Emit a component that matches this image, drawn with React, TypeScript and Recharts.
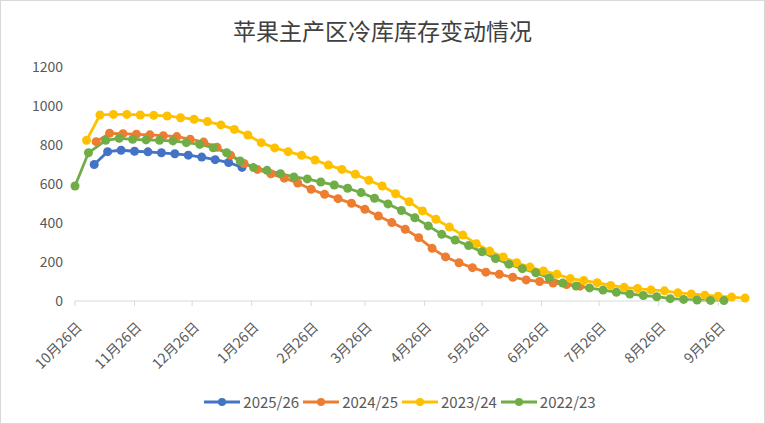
import { LineChart, Line, XAxis, YAxis, Legend } from 'recharts';

const title = '苹果主产区冷库库存变动情况';

// x positions are days counted from 10月26日
const tickDays = [0, 31, 61, 92, 123, 151, 182, 212, 243, 273, 304, 335];
const tickLabels = ['10月26日', '11月26日', '12月26日', '1月26日', '2月26日', '3月26日', '4月26日', '5月26日', '6月26日', '7月26日', '8月26日', '9月26日'];
const yTicks = [0, 200, 400, 600, 800, 1000, 1200];

// weekly readings (万吨)
const blueStart = 10;
const blueValues = [700, 766, 773, 768, 765, 760, 755, 748, 738, 725, 710, 685];

const orangeStart = 11;
const orangeValues = [817, 860, 858, 855, 852, 848, 843, 830, 815, 788, 748, 705, 675, 652, 630, 605, 573, 547, 525, 501, 470, 436, 402, 368, 325, 270, 226, 196, 171, 148, 137, 122, 108, 100, 92, 84, 76];

const yellowStart = 6;
const yellowValues = [824, 954, 957, 957, 954, 952, 949, 940, 932, 920, 903, 880, 851, 812, 785, 766, 747, 723, 697, 675, 650, 619, 590, 550, 509, 462, 419, 379, 338, 294, 256, 226, 196, 174, 154, 137, 115, 105, 94, 80, 70, 64, 57, 52, 42, 36, 30, 25, 20, 15];

// first two green readings are on 10/26 and 11/2, then weekly from day 16
const greenHeadDays = [0, 7];
const greenHeadValues = [590, 760];
const greenStart = 16;
const greenValues = [824, 834, 829, 826, 824, 821, 812, 803, 786, 760, 718, 684, 670, 653, 636, 626, 610, 595, 578, 556, 527, 498, 464, 427, 385, 342, 313, 284, 252, 218, 189, 166, 145, 118, 92, 77, 67, 56, 45, 36, 28, 22, 12, 8, 5, 3, 2];

const weekly = (start: number, values: number[]) => values.map((v, i) => ({ d: start + i * 7, v }));

const series = [
    { name: '2025/26', color: '#4472C4', data: weekly(blueStart, blueValues) },
    { name: '2024/25', color: '#ED7D31', data: weekly(orangeStart, orangeValues) },
    { name: '2023/24', color: '#FFC000', data: weekly(yellowStart, yellowValues) },
    {
        name: '2022/23',
        color: '#70AD47',
        data: [...greenHeadDays.map((d, i) => ({ d, v: greenHeadValues[i] })), ...weekly(greenStart, greenValues)],
    },
];

const font = '"Noto Sans CJK SC", "Noto Sans", sans-serif';

function DateTick({ x, y, payload }: any) {
    const i = tickDays.indexOf(payload.value);
    const tx = x + 8;
    const ty = y + 20;
    return (
        <text x={tx} y={ty} transform={`rotate(-45, ${tx}, ${ty})`} textAnchor="end" fontSize={14} fill="#595959" fontFamily={font}>
            {tickLabels[i]}
        </text>
    );
}

function LegendRow() {
    return (
        <div style={{ display: 'flex', justifyContent: 'center', gap: 4, fontFamily: font, fontSize: 15, color: '#595959', paddingTop: 6, paddingLeft: 52 }}>
            {series.map(s => (
                <div key={s.name} style={{ display: 'flex', alignItems: 'center', gap: 3 }}>
                    <svg width={36} height={10}>
                        <line x1={0} y1={5} x2={36} y2={5} stroke={s.color} strokeWidth={2.8} />
                        <circle cx={18} cy={5} r={4} fill={s.color} />
                    </svg>
                    <span>{s.name}</span>
                </div>
            ))}
        </div>
    );
}

export default function App() {
    return (
        <div style={{ position: 'absolute', left: 0, top: 0, width: 765, height: 424, boxSizing: 'border-box', border: '1px solid #d9d9d9', background: '#fff' }}>
            <div style={{ position: 'absolute', top: 12, width: '100%', textAlign: 'center', fontFamily: font, fontSize: 23, color: '#404040' }}>
                {title}
            </div>
            <LineChart width={763} height={422} margin={{ top: 66, right: 17, bottom: 8, left: 0 }}>
                <XAxis
                    type="number"
                    dataKey="d"
                    domain={[0, 350]}
                    ticks={tickDays}
                    interval={0}
                    tick={<DateTick />}
                    height={84}
                    stroke="#d9d9d9"
                    tickSize={5}
                />
                <YAxis
                    domain={[0, 1200]}
                    ticks={yTicks}
                    width={74}
                    axisLine={false}
                    tickLine={false}
                    tick={{ fontSize: 14, fill: '#595959', fontFamily: font }}
                    tickMargin={6}
                />
                <Legend verticalAlign="bottom" height={30} content={<LegendRow />} />
                {series.map(s => (
                    <Line
                        key={s.name}
                        data={s.data}
                        dataKey="v"
                        name={s.name}
                        stroke={s.color}
                        strokeWidth={2.8}
                        dot={{ r: 4.5, fill: s.color, stroke: s.color, strokeWidth: 0, clipDot: false }}
                        isAnimationActive={false}
                    />
                ))}
            </LineChart>
        </div>
    );
}
